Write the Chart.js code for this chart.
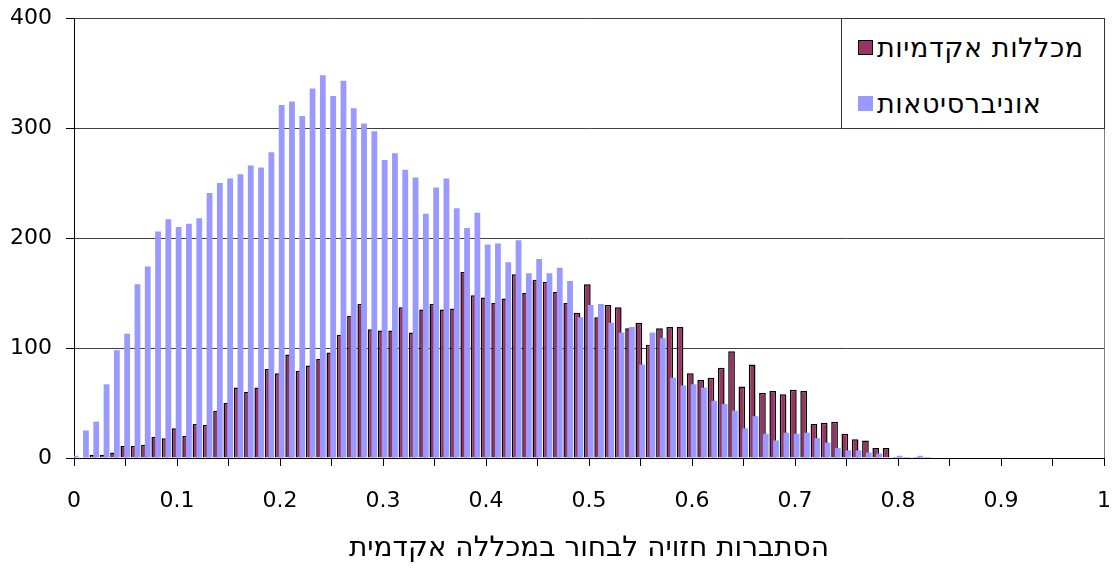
<!DOCTYPE html>
<html>
<head>
<meta charset="utf-8">
<script src="https://cdn.jsdelivr.net/npm/chart.js@4.4.1/dist/chart.umd.min.js"></script>
<style>
html,body{margin:0;padding:0;background:#fff;}
#wrap{position:relative;width:1112px;height:568px;}
canvas{display:block;}
#legend{position:absolute;left:841px;top:18px;width:264px;height:111px;box-sizing:border-box;border:1px solid #333;background:#fff;font-family:'DejaVu Sans',sans-serif;font-size:27px;letter-spacing:0.6px;color:#000;}
.item{position:absolute;left:16px;display:flex;align-items:center;height:30px;white-space:nowrap;}
.sw{width:15px;height:15px;box-sizing:border-box;margin-right:4px;flex:none;}
</style>
</head>
<body>
<div id="wrap"><canvas id="c" width="1112" height="568"></canvas><div id="legend"></div></div>
<script>
// ---- data ----
const categories = ['0','0.01','0.02','0.03','0.04','0.05','0.06','0.07','0.08','0.09',
  '0.1','0.11','0.12','0.13','0.14','0.15','0.16','0.17','0.18','0.19',
  '0.2','0.21','0.22','0.23','0.24','0.25','0.26','0.27','0.28','0.29',
  '0.3','0.31','0.32','0.33','0.34','0.35','0.36','0.37','0.38','0.39',
  '0.4','0.41','0.42','0.43','0.44','0.45','0.46','0.47','0.48','0.49',
  '0.5','0.51','0.52','0.53','0.54','0.55','0.56','0.57','0.58','0.59',
  '0.6','0.61','0.62','0.63','0.64','0.65','0.66','0.67','0.68','0.69',
  '0.7','0.71','0.72','0.73','0.74','0.75','0.76','0.77','0.78','0.79',
  '0.8','0.81','0.82','0.83','0.84','0.85','0.86','0.87','0.88','0.89',
  '0.9','0.91','0.92','0.93','0.94','0.95','0.96','0.97','0.98','0.99','1'];

const xTickLabels = ['0','0.1','0.2','0.3','0.4','0.5','0.6','0.7','0.8','0.9','1'];
const yTicks = [0, 100, 200, 300, 400];

const seriesNames = ['מכללות אקדמיות', 'אוניברסיטאות'];
const xTitle = 'הסתברות חזויה לבחור במכללה אקדמית';

const colleges = [0,0,3,3,5,11,11,12,19,18,
  27,20,31,30,43,50,64,60,64,81,
  77,94,79,84,90,96,112,129,140,117,
  116,116,137,114,135,140,135,136,169,148,
  146,141,145,167,150,162,160,151,141,132,
  158,128,139,137,118,123,103,118,119,119,
  77,71,73,82,97,65,85,59,61,58,
  62,61,31,32,33,22,17,16,9,9,
  1,1,1,1,0,0,0,0,0,0,
  0,0,0,0,0,0,0,0,0,0,0];

const universities = [2,25,33,67,98,113,158,174,206,217,
  210,213,218,241,250,254,258,266,264,278,
  321,324,311,336,348,329,343,318,304,297,
  271,277,262,255,222,246,254,227,209,223,
  194,195,178,198,168,181,168,173,161,128,
  139,140,123,114,119,85,114,109,73,66,
  67,64,52,49,43,27,38,22,16,23,
  22,23,18,14,9,7,7,5,4,0,
  2,0,2,0,0,0,0,0,0,0,
  0,0,0,0,0,0,0,0,0,0,0];

const colors = ['#993366', '#9999FF'];

// ---- legend (HTML) ----
const legend = document.getElementById('legend');
const legendTops = [13, 69];
seriesNames.forEach((name, i) => {
  const it = document.createElement('div');
  it.className = 'item';
  it.style.top = legendTops[i] + 'px';
  const sw = document.createElement('span');
  sw.className = 'sw';
  sw.style.background = colors[i];
  if (i === 0) sw.style.border = '1.5px solid #000';
  const tx = document.createElement('span');
  tx.textContent = name;
  it.appendChild(sw); it.appendChild(tx);
  legend.appendChild(it);
});

// draw the universities series above the colleges series
const blueOnTop = {
  id: 'blueOnTop',
  beforeDatasetDraw(chart, args) {
    if (args.index === 1) return false;
  },
  afterDatasetsDraw(chart) {
    const meta = chart.getDatasetMeta(1);
    const a = chart.chartArea, ctx = chart.ctx;
    ctx.save();
    ctx.beginPath();
    ctx.rect(a.left, a.top, a.right - a.left, a.bottom - a.top);
    ctx.clip();
    meta.controller.draw();
    ctx.restore();
  }
};

const rightBorder = {
  id: 'rightBorder',
  afterDraw(chart) {
    const a = chart.chartArea, ctx = chart.ctx;
    ctx.save();
    ctx.strokeStyle = '#808080';
    ctx.lineWidth = 1;
    ctx.beginPath();
    ctx.moveTo(Math.round(a.right) + 0.5, a.top);
    ctx.lineTo(Math.round(a.right) + 0.5, a.bottom);
    ctx.stroke();
    ctx.restore();
  }
};

new Chart(document.getElementById('c'), {
  type: 'bar',
  data: {
    labels: categories,
    datasets: [
      { label: seriesNames[0], data: colleges, backgroundColor: colors[0], borderColor: '#000000', borderWidth: 1.5,
        barPercentage: 2.03, categoryPercentage: 0.64 },
      { label: seriesNames[1], data: universities, backgroundColor: colors[1], borderWidth: 0,
        barPercentage: 1.76, categoryPercentage: 0.64 }
    ]
  },
  options: {
    responsive: false,
    animation: false,
    devicePixelRatio: 1,
    layout: { padding: { left: 0, right: 8, top: 18, bottom: 0 } },
    plugins: { legend: { display: false }, tooltip: { enabled: false } },
    scales: {
      x: {
        type: 'category',
        offset: false,
        grid: {
          offset: false, drawOnChartArea: false, drawTicks: true, tickLength: 8,
          color: '#000',
          tickColor: c => (c.index % 5 === 0 ? '#000' : 'rgba(0,0,0,0)')
        },
        border: { color: '#000', width: 1 },
        ticks: {
          autoSkip: false, maxRotation: 0, minRotation: 0, padding: 22, color: '#000',
          font: { family: 'DejaVu Sans', size: 22 },
          callback: (v, i) => (i % 10 === 0 ? xTickLabels[i / 10] : '')
        },
        title: {
          display: true, text: xTitle, color: '#000',
          font: { family: 'DejaVu Sans', size: 28 },
          padding: { top: 0, bottom: 2 }
        },
        afterFit: s => { s.height = 110; s.paddingLeft = 0; s.paddingRight = 0; }
      },
      y: {
        min: 0, max: 400,
        afterBuildTicks: s => { s.ticks = yTicks.map(v => ({ value: v })); },
        ticks: { padding: 14, color: '#000', font: { family: 'DejaVu Sans', size: 22 } },
        grid: { color: '#404040', tickColor: '#000', tickLength: 8, lineWidth: 1 },
        border: { color: '#000', width: 1 },
        afterFit: s => { s.width = 74; s.paddingTop = 0; s.paddingBottom = 0; }
      }
    }
  },
  plugins: [blueOnTop, rightBorder]
});
</script>
</body>
</html>
